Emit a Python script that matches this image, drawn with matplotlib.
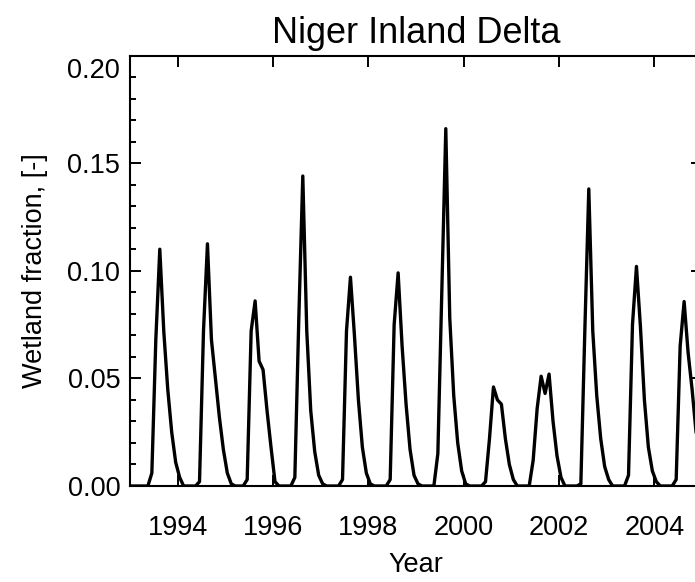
import numpy as np
import matplotlib.pyplot as plt
from matplotlib.ticker import MultipleLocator, FuncFormatter

plt.rcParams['font.family'] = ['Liberation Sans', 'DejaVu Sans']

# monthly wetland fraction, Jan..Dec of each year
years = np.arange(1993, 2005)
wf_1993 = [0.000, 0.000, 0.000, 0.000, 0.000, 0.006, 0.068, 0.110, 0.072, 0.045, 0.025, 0.011]
wf_1994 = [0.004, 0.000, 0.000, 0.000, 0.000, 0.002, 0.072, 0.1125, 0.068, 0.050, 0.032, 0.017]
wf_1995 = [0.006, 0.001, 0.000, 0.000, 0.000, 0.003, 0.072, 0.086, 0.058, 0.054, 0.035, 0.018]
wf_1996 = [0.002, 0.000, 0.000, 0.000, 0.000, 0.004, 0.078, 0.144, 0.072, 0.035, 0.016, 0.005]
wf_1997 = [0.001, 0.000, 0.000, 0.000, 0.000, 0.003, 0.072, 0.097, 0.070, 0.040, 0.018, 0.006]
wf_1998 = [0.001, 0.000, 0.000, 0.000, 0.000, 0.003, 0.075, 0.099, 0.065, 0.038, 0.017, 0.005]
wf_1999 = [0.001, 0.000, 0.000, 0.000, 0.000, 0.015, 0.090, 0.166, 0.078, 0.042, 0.020, 0.007]
wf_2000 = [0.001, 0.000, 0.000, 0.000, 0.000, 0.002, 0.022, 0.046, 0.040, 0.038, 0.022, 0.010]
wf_2001 = [0.003, 0.000, 0.000, 0.000, 0.000, 0.012, 0.036, 0.051, 0.043, 0.052, 0.030, 0.014]
wf_2002 = [0.004, 0.000, 0.000, 0.000, 0.000, 0.001, 0.072, 0.138, 0.072, 0.042, 0.022, 0.009]
wf_2003 = [0.003, 0.000, 0.000, 0.000, 0.000, 0.005, 0.075, 0.102, 0.074, 0.040, 0.018, 0.007]
wf_2004 = [0.002, 0.000, 0.000, 0.000, 0.000, 0.003, 0.065, 0.0857, 0.062, 0.045, 0.025, 0.010]

wf = np.concatenate([wf_1993, wf_1994, wf_1995, wf_1996, wf_1997, wf_1998,
                     wf_1999, wf_2000, wf_2001, wf_2002, wf_2003, wf_2004])
# mid-month time axis in decimal years
t = (years[:, None] + (np.arange(12) + 0.5) / 12.0).ravel()

fig = plt.figure(figsize=(6.95, 5.82), dpi=100)
# the frame runs past the right edge of the figure
ax = fig.add_axes([130 / 695, 96 / 582, 572 / 695, 430.5 / 582])

ax.plot(t, wf, color='black', lw=2.4)

ymax = 0.20
ax.set_xlim(1993, 2005)
ax.set_ylim(0, ymax)
ax.xaxis.set_major_locator(MultipleLocator(2))
ax.yaxis.set_major_locator(MultipleLocator(0.05))
ax.yaxis.set_minor_locator(MultipleLocator(0.01))
# the top label is written separately, a bit below the frame
ax.yaxis.set_major_formatter(
    FuncFormatter(lambda v, p: '' if abs(v - ymax) < 1e-9 else '%.2f' % v))

ax.tick_params(which='both', direction='in', top=True, right=True,
               width=1.4, colors='black', labelsize=19.5)
ax.tick_params(which='major', length=8)
ax.tick_params(which='minor', length=4)
ax.tick_params(axis='x', pad=21)
ax.tick_params(axis='y', pad=7)
for sp in ax.spines.values():
    sp.set_linewidth(1.5)

ax.annotate('%.2f' % ymax, xy=(0, ymax), xycoords=('axes fraction', 'data'),
            xytext=(-7.5, -11.5), textcoords='offset points',
            ha='right', va='center', fontsize=19.5)

ax.set_xlabel('Year', fontsize=19.5, labelpad=8)
ax.set_ylabel('Wetland fraction, [-]', fontsize=19.5, labelpad=14)
ax.set_title('Niger Inland Delta', fontsize=26, pad=9)

fig.savefig('out.png', dpi=100)
